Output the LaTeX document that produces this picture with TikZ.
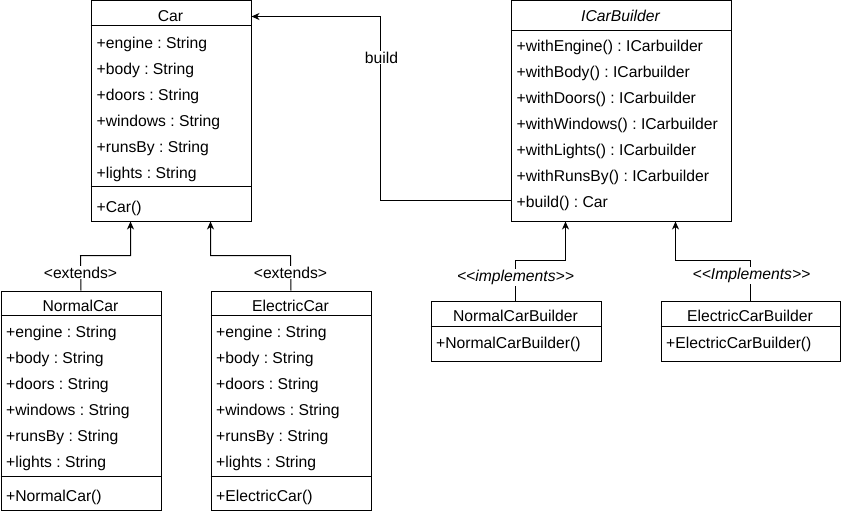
\documentclass[tikz,border=0pt]{standalone}
\usepackage{fontspec}
\setmainfont{Liberation Sans}
\usetikzlibrary{arrows.meta}
\begin{document}
\frenchspacing
\begin{tikzpicture}[x=1pt,y=-1pt,
  every node/.style={font=\fontsize{15.7}{18}\selectfont, inner sep=0pt},
  box/.style={draw, line width=1pt, anchor=north west, fill=white},
  row/.style={anchor=base west},
  ttl/.style={anchor=base},
  lbl/.style={anchor=base, fill=white, inner sep=1pt},
  conn/.style={line width=1pt, -{Stealth[length=8pt,width=7pt,inset=2.5pt]}},
  sep/.style={line width=1pt}]
\useasboundingbox (0,0) rectangle (841,511);

% ---------- Car ----------
\node[box, minimum width=160pt, minimum height=220pt] (car) at (90.5,0.5) {};
\draw[sep] (90.5,26) -- (250.5,26);
\draw[sep] (90.5,186.5) -- (250.5,186.5);
\node[ttl] (carT) at (170.5,22) {Car};
\foreach \t [count=\i from 0] in {+engine : String,+body : String,+doors : String,+windows : String,+runsBy : String,+lights : String}
  \node[row] (carA\i) at (96.5,48.5+26*\i) {\t};
\node[row] (carM) at (96.5,212.5) {+Car()};

% ---------- NormalCar ----------
\node[box, minimum width=160pt, minimum height=219pt] (ncar) at (0.5,290.5) {};
\draw[sep] (0.5,315.5) -- (160.5,315.5);
\draw[sep] (0.5,476.5) -- (160.5,476.5);
\node[ttl] (ncarT) at (80.5,311.7) {NormalCar};
\foreach \t [count=\i from 0] in {+engine : String,+body : String,+doors : String,+windows : String,+runsBy : String,+lights : String}
  \node[row] (ncarA\i) at (6,337.7+26*\i) {\t};
\node[row] (ncarM) at (6,501.7) {+NormalCar()};

% ---------- ElectricCar ----------
\node[box, minimum width=160pt, minimum height=219pt] (ecar) at (210.5,290.5) {};
\draw[sep] (210.5,315.5) -- (370.5,315.5);
\draw[sep] (210.5,476.5) -- (370.5,476.5);
\node[ttl] (ecarT) at (290.5,311.7) {ElectricCar};
\foreach \t [count=\i from 0] in {+engine : String,+body : String,+doors : String,+windows : String,+runsBy : String,+lights : String}
  \node[row] (ecarA\i) at (216,337.7+26*\i) {\t};
\node[row] (ecarM) at (216,501.7) {+ElectricCar()};

% ---------- ICarBuilder ----------
\node[box, minimum width=220pt, minimum height=220pt] (icb) at (510.5,0.5) {};
\draw[sep] (510.5,30.5) -- (730.5,30.5);
\node[ttl] (icbT) at (620.5,22) {\itshape ICarBuilder};
\foreach \t [count=\i from 0] in {+withEngine() : ICarbuilder,+withBody() : ICarbuilder,+withDoors() : ICarbuilder,+withWindows() : ICarbuilder,+withLights() : ICarbuilder,+withRunsBy() : ICarbuilder,+build() : Car}
  \node[row] (icbM\i) at (516.5,51.7+26*\i) {\t};

% ---------- NormalCarBuilder ----------
\node[box, minimum width=170pt, minimum height=60pt] (ncb) at (430.5,300.5) {};
\draw[sep] (430.5,326.5) -- (600.5,326.5);
\node[ttl] (ncbT) at (515.5,321.7) {NormalCarBuilder};
\node[row] (ncbM) at (436,348.3) {+NormalCarBuilder()};

% ---------- ElectricCarBuilder ----------
\node[box, minimum width=179pt, minimum height=60pt] (ecb) at (660.5,300.5) {};
\draw[sep] (660.5,326.5) -- (839.5,326.5);
\node[ttl] (ecbT) at (750,321.7) {ElectricCarBuilder};
\node[row] (ecbM) at (666,348.3) {+ElectricCarBuilder()};

% ---------- connectors ----------
\coordinate (b1) at (380.5,200.5);
\coordinate (b2) at (380.5,16.5);
\draw[conn] (icb.west |- b1) -- (b1) -- (b2) -- (car.east |- b2);
\node[lbl] (buildL) at (381.5,63.3) {build};

\draw[conn] (ncar.north) -- (80.5,255.5) -- (130.5,255.5) -- (car.south -| 130.5,0);
\node[lbl] (ext1) at (80.5,278.3) {<extends>};

\draw[conn] (ecar.north) -- (290.5,255.5) -- (210.5,255.5) -- (car.south -| 210.5,0);
\node[lbl] (ext2) at (290.5,278.3) {<extends>};

\draw[conn] (515.5,300.5) -- (515.5,260.5) -- (565.5,260.5) -- (icb.south -| 565.5,0);
\node[lbl] (imp1) at (515.5,281.7) {\itshape {<}{<}implements{>}{>}};

\draw[conn] (750.5,300.5) -- (750.5,260.5) -- (675.5,260.5) -- (icb.south -| 675.5,0);
\node[lbl] (imp2) at (751.5,279.3) {\itshape {<}{<}Implements{>}{>}};
\end{tikzpicture}
\end{document}
